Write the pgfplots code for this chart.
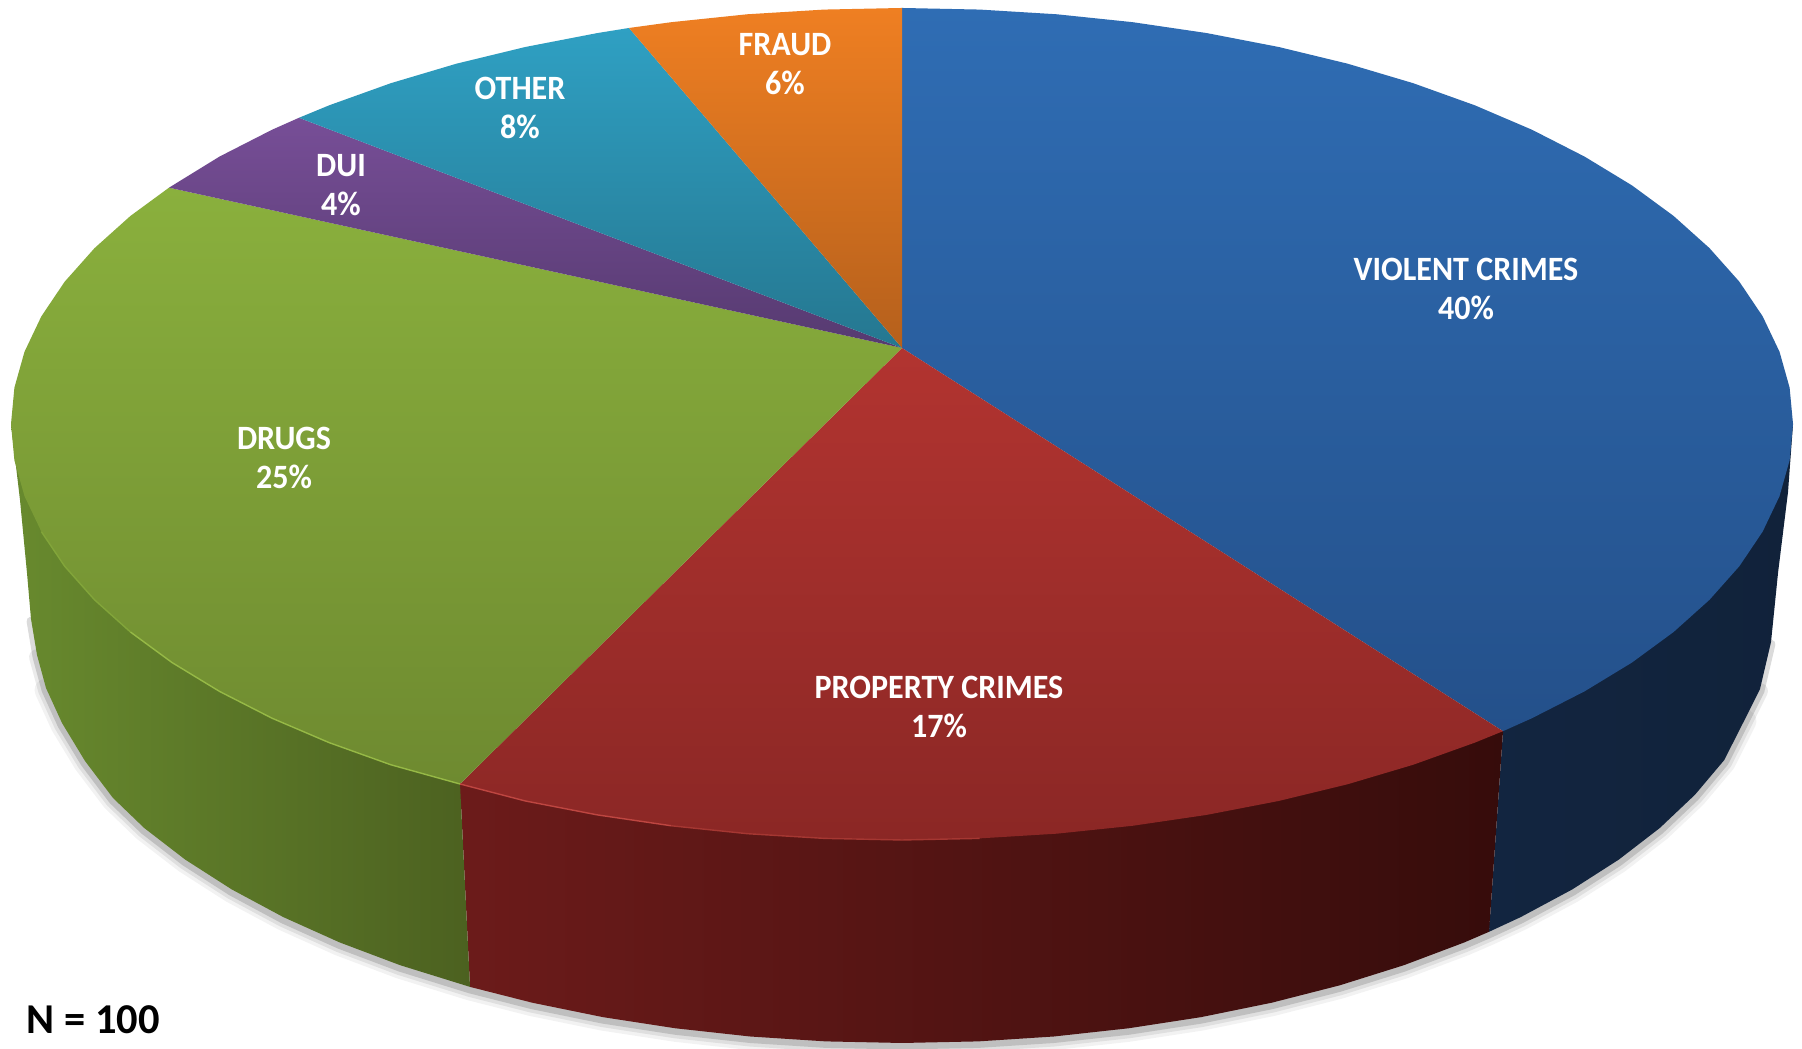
\documentclass[border=0pt]{standalone}
\usepackage{fontspec}
\setmainfont{Carlito}
\newfontfamily\labelfont{Carlito}[FakeStretch=0.94]
\usepackage{pgfplots}
\usepackage{pgfplotstable}
\pgfplotsset{compat=1.18}

% outer edge of the lower rim (pixels, y up)
\pgfplotstableread{
x y
11 625
20 549
27 476
31 430
37 394
46 361
62 326
85 288
113 251
144.2 221
185.2 189.4
231.7 159.6
283.3 131.9
339.6 106.6
400.1 83.8
470 62.1
532.2 46.3
602.7 31.9
675.5 20.7
750.1 12.5
825.7 7.6
902 6
978.3 7.6
1053.9 12.5
1128.5 20.7
1201.3 31.9
1271.8 46.3
1339.5 63.6
1403.9 83.8
1464.4 106.6
1489 117.2
1520.7 131.9
1572.3 159.6
1618.8 189.4
1659.8 221
1695 254.3
1724.2 288.9
1745 330
1760 360
1771 407
1778 476
1788 557
1793 625
}\rimedge

\definecolor{blueT}{HTML}{2F6DB4}
\definecolor{blueB}{HTML}{24508A}
\definecolor{redT}{HTML}{B23430}
\definecolor{redB}{HTML}{8B2725}
\definecolor{greenT}{HTML}{8AB03D}
\definecolor{greenB}{HTML}{6E8A30}
\definecolor{purpleT}{HTML}{774E97}
\definecolor{purpleB}{HTML}{563A70}
\definecolor{tealT}{HTML}{2FA0C3}
\definecolor{tealB}{HTML}{257790}
\definecolor{orangeT}{HTML}{EF7F22}
\definecolor{orangeB}{HTML}{B5601C}

\begin{document}
\begin{tikzpicture}
\begin{axis}[
  width=18.02cm, height=10.49cm,
  scale only axis,
  hide axis,
  xmin=0, xmax=1802,
  ymin=0, ymax=1049,
  every axis plot/.append style={no marks, line join=round},
]
% white page, holds the full size
\addplot[draw=none, fill=white] coordinates {(0,0)(1802,0)(1802,1049)(0,1049)} --cycle;

% soft shadow under the rim, the wider strokes start further down
\addplot[draw=black, opacity=0.05, line width=6.5pt, line cap=round, yshift=-0.6pt, skip coords between index={0}{5}, skip coords between index={38}{43}] table {\rimedge};
\addplot[draw=black, opacity=0.08, line width=4.5pt, line cap=round, yshift=-0.6pt, skip coords between index={0}{4}, skip coords between index={39}{43}] table {\rimedge};
\addplot[draw=black, opacity=0.14, line width=2.5pt, line cap=round, yshift=-0.6pt, skip coords between index={0}{3}, skip coords between index={40}{43}] table {\rimedge};

% rim
\addplot[draw=none, left color={rgb,255:red,18;green,37;blue,64}, right color={rgb,255:red,17;green,34;blue,58}] coordinates {
(1503,317.8)(1793,625)(1788,557)(1778,476)(1771,407)(1760,360)(1745,330)(1724.2,288.9)(1695,254.3)(1659.8,221)(1618.8,189.4)(1572.3,159.6)(1520.7,131.9)(1489,117.2)
} --cycle;
\addplot[draw=none, left color={rgb,255:red,108;green,27;blue,26}, middle color={rgb,255:red,76;green,18;blue,17}, right color={rgb,255:red,54;green,12;blue,11}] coordinates {
(460,265)(1503,317.8)(1489,117.2)(1464.4,106.6)(1403.9,83.8)(1339.5,63.6)(1271.8,46.3)(1201.3,31.9)(1128.5,20.7)(1053.9,12.5)(978.3,7.6)(902,6)(825.7,7.6)(750.1,12.5)(675.5,20.7)(602.7,31.9)(532.2,46.3)(470,62.1)
} --cycle;
\addplot[draw=none, left color={rgb,255:red,104;green,138;blue,46}, middle color={rgb,255:red,88;green,114;blue,38}, right color={rgb,255:red,76;green,97;blue,32}] coordinates {
(11,625)(20,549)(27,476)(31,430)(37,394)(46,361)(62,326)(85,288)(113,251)(144.2,221)(185.2,189.4)(231.7,159.6)(283.3,131.9)(339.6,106.6)(400.1,83.8)(470,62.1)(460,265)
} --cycle;

% top face
\addplot[draw=none, top color=blueT, bottom color=blueB] coordinates {
(902,701)(902,1041)(979.7,1039.4)(1056.7,1034.7)(1132.6,1026.8)(1206.7,1015.9)(1278.6,1002)(1347.5,985.3)(1413.1,965.8)(1474.7,943.7)(1532,919.2)(1584.5,892.4)(1631.9,863.6)(1673.6,833)(1709.5,800.8)(1739.3,767.3)(1762.6,732.7)(1779.5,697.2)(1789.6,661.3)(1793,625)(1789.6,588.7)(1779.5,552.8)(1762.6,517.3)(1739.3,482.7)(1709.5,449.2)(1673.6,417)(1631.9,386.4)(1584.5,357.6)(1532,330.8)(1503,317.8)
} --cycle;
\addplot[draw=none, top color=redT, bottom color=redB] coordinates {
(902,701)(1503,317.8)(1474.7,306.3)(1413.1,284.2)(1347.5,264.7)(1278.6,248)(1206.7,234.1)(1132.6,223.2)(1056.7,215.3)(979.7,210.6)(902,209)(824.3,210.6)(747.3,215.3)(671.4,223.2)(597.3,234.1)(525.4,248)(460,265)
} --cycle;
\addplot[draw=none, top color=greenT, bottom color=greenB] coordinates {
(902,701)(460,265)(390.9,284.2)(329.3,306.3)(272,330.8)(219.5,357.6)(172.1,386.4)(130.4,417)(94.5,449.2)(64.7,482.7)(41.4,517.3)(24.5,552.8)(14.4,588.7)(11,625)(14.4,661.3)(24.5,697.2)(41.4,732.7)(64.7,767.3)(94.5,800.8)(130.4,833)(169,861.3)
} --cycle;
\addplot[draw=none, top color=purpleT, bottom color=purpleB] coordinates {
(902,701)(169,861.3)(219.5,892.4)(272,919.2)(299,931.2)
} --cycle;
\addplot[draw=none, top color=tealT, bottom color=tealB] coordinates {
(902,701)(299,931.2)(329.3,943.7)(390.9,965.8)(456.5,985.3)(525.4,1002)(597.3,1015.9)(629,1021)
} --cycle;
\addplot[draw=none, top color=orangeT, bottom color=orangeB] coordinates {
(902,701)(629,1021)(671.4,1026.8)(747.3,1034.7)(824.3,1039.4)(902,1041)
} --cycle;

% light line on the front edge, fading out
\addplot[draw={rgb,255:red,150;green,185;blue,70}, line width=0.4pt] coordinates {
(460,265)(390.9,284.2)(329.3,306.3)(272,330.8)(219.5,357.6)(172.1,386.4)(130.4,417)
};
\addplot[draw={rgb,255:red,130;green,165;blue,58}, line width=0.4pt] coordinates {
(130.4,417)(94.5,449.2)(64.7,482.7)(41.4,517.3)
};
\addplot[draw={rgb,255:red,190;green,70;blue,65}, line width=0.4pt] coordinates {
(460,265)(525.4,248)(597.3,234.1)(671.4,223.2)
};
\addplot[draw={rgb,255:red,165;green,55;blue,50}, line width=0.4pt] coordinates {
(671.4,223.2)(747.3,215.3)(824.3,210.6)(902,209)(979.7,210.6)
};

\begin{scope}[every node/.style={align=center, text=white, font=\fontsize{9.7}{11.1}\selectfont\labelfont\bfseries}]
\node at (axis cs:1466,760) {VIOLENT CRIMES\\40\%};
\node at (axis cs:939,342) {PROPERTY CRIMES\\17\%};
\node at (axis cs:284,591) {DRUGS\\25\%};
\node at (axis cs:341,864) {DUI\\4\%};
\node at (axis cs:520,941) {OTHER\\8\%};
\node at (axis cs:785,985) {FRAUD\\6\%};
\end{scope}
\node[anchor=west, inner sep=0pt, font=\fontsize{12.1}{13}\selectfont\bfseries, text=black] at (axis cs:26,29) {N = 100};
\end{axis}
\end{tikzpicture}
\end{document}
